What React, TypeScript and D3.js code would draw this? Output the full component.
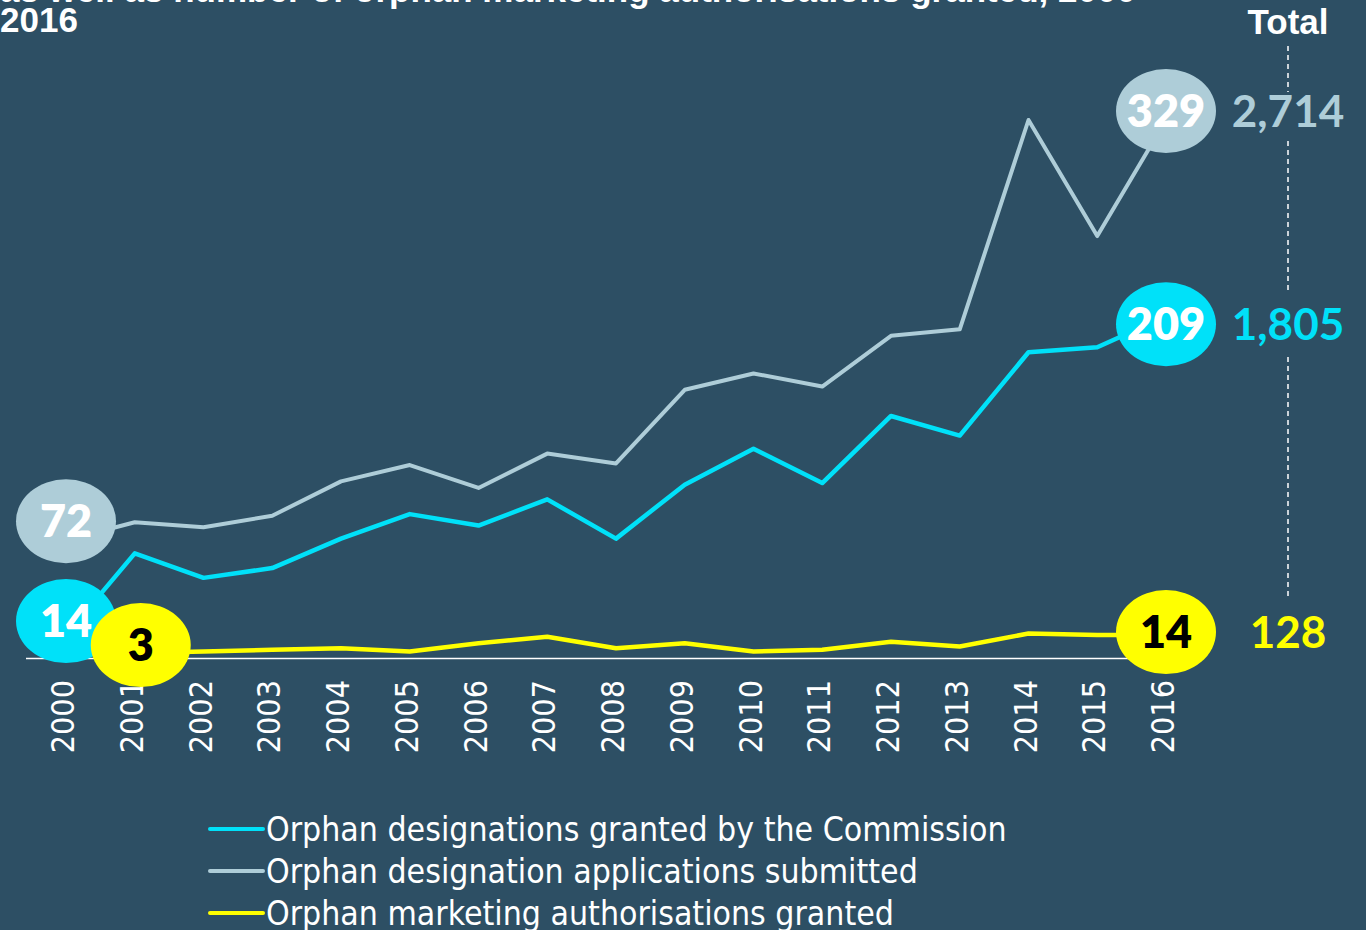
import React from "react";
import { scalePoint, scaleLinear, line } from "d3";

const years = [2000, 2001, 2002, 2003, 2004, 2005, 2006, 2007, 2008, 2009, 2010, 2011, 2012, 2013, 2014, 2015, 2016];
const designations = [14, 64, 49, 55, 73, 88, 81, 97, 73, 106, 128, 107, 148, 136, 187, 190, 209];
const applications = [72, 83, 80, 87, 108, 118, 104, 125, 119, 164, 174, 166, 197, 201, 329, 258, 329];
// marketing authorisations start in 2001
const authYears = years.slice(1);
const authorisations = [3, 4, 5, 6, 4, 9, 13, 6, 9, 4, 5, 10, 7, 15, 14, 14];
const totals = ["2,714", "1,805", "128"];
const legendLabels = [
  "Orphan designations granted by the Commission",
  "Orphan designation applications submitted",
  "Orphan marketing authorisations granted",
];

const BG = "#2d4f64";
const GREY = "#aecdd8";
const CYAN = "#00e1f9";
const YELLOW = "#ffff00";

const numFont = "Lato, 'DejaVu Sans', sans-serif";
const textFont = "'DejaVu Sans Condensed', 'DejaVu Sans', sans-serif";

export default function App() {
  const x = scalePoint<number>().domain(years).range([66, 1166]);
  const y = scaleLinear().domain([0, 329]).range([658, 120]);

  const mk = (ys: number[], vals: number[]) =>
    line<number>()
      .x((_, i) => x(ys[i]) as number)
      .y((d) => y(d))(vals) as string;

  const first = x(2000) as number;
  const last = x(2016) as number;

  // bubble labels sit near the first / last points
  const bubbles = [
    { cx: first, cy: y(applications[0]) - 19, fill: GREY, text: String(applications[0]), color: "#fff" },
    { cx: first, cy: y(designations[0]) - 14, fill: CYAN, text: String(designations[0]), color: "#fff" },
    { cx: (x(2001) as number) + 6, cy: y(authorisations[0]) - 8, fill: YELLOW, text: String(authorisations[0]), color: "#000" },
    { cx: last, cy: y(applications[16]) - 9, fill: GREY, text: String(applications[16]), color: "#fff" },
    { cx: last, cy: y(designations[16]) + 8, fill: CYAN, text: String(designations[16]), color: "#fff" },
    { cx: last, cy: y(authorisations[15]) - 3, fill: YELLOW, text: String(authorisations[15]), color: "#000" },
  ];

  const totalX = 1288;
  const totalYs = [bubbles[3].cy, bubbles[4].cy, bubbles[5].cy];
  const totalColors = [GREY, CYAN, YELLOW];

  return (
    <svg
      width={1366}
      height={930}
      style={{ position: "absolute", left: 0, top: 0, background: BG }}
    >
      <rect width={1366} height={930} fill={BG} />

      {/* title, top line cut off by the frame */}
      <g fill="#fff" fontFamily="'Liberation Sans', Arial, sans-serif" fontWeight="bold" fontSize={35}>
        <text x={0} y={2}>as well as number of orphan marketing authorisations granted, 2000 -</text>
        <text x={0} y={32}>2016</text>
        <text x={totalX} y={34} textAnchor="middle">Total</text>
      </g>

      {/* dashed divider */}
      <g stroke="#fff" strokeWidth={1.5} strokeDasharray="5,4">
        <line x1={totalX} x2={totalX} y1={46} y2={92} />
        <line x1={totalX} x2={totalX} y1={141} y2={292} />
        <line x1={totalX} x2={totalX} y1={357} y2={600} />
      </g>

      {/* baseline */}
      <line x1={26} x2={1160} y1={658.5} y2={658.5} stroke="#fff" strokeWidth={1.5} />

      {/* year labels */}
      <g fill="#fff" fontFamily={textFont} fontSize={32}>
        {years.map((yr) => (
          <text
            key={yr}
            transform={`translate(${(x(yr) as number) + 8},680) rotate(-90)`}
            textAnchor="end"
          >
            {yr}
          </text>
        ))}
      </g>

      <g fill="none" strokeLinejoin="round">
        <path d={mk(years, applications)} stroke={GREY} strokeWidth={4} />
        <path d={mk(years, designations)} stroke={CYAN} strokeWidth={4.5} />
        <path d={mk(authYears, authorisations)} stroke={YELLOW} strokeWidth={4.5} />
      </g>

      {bubbles.map((b, i) => (
        <g key={i}>
          <ellipse cx={b.cx} cy={b.cy} rx={50} ry={42} fill={b.fill} />
          <text
            x={b.cx}
            y={b.cy + 16}
            textAnchor="middle"
            fill={b.color}
            fontFamily={numFont}
            fontWeight={800}
            fontSize={45}
          >
            {b.text}
          </text>
        </g>
      ))}

      {totals.map((t, i) => (
        <text
          key={t}
          x={totalX}
          y={totalYs[i] + 16}
          textAnchor="middle"
          fill={totalColors[i]}
          fontFamily={numFont}
          fontWeight={700}
          fontSize={44}
        >
          {t}
        </text>
      ))}

      {/* legend */}
      <g>
        {legendLabels.map((l, i) => (
          <g key={l} transform={`translate(210,${829 + i * 42})`}>
            <line x1={0} x2={53} y1={0} y2={0} stroke={[CYAN, GREY, YELLOW][i]} strokeWidth={4} strokeLinecap="round" />
            <text x={56} y={12} fill="#fff" fontFamily={textFont} fontSize={33.5}>
              {l}
            </text>
          </g>
        ))}
      </g>
    </svg>
  );
}
